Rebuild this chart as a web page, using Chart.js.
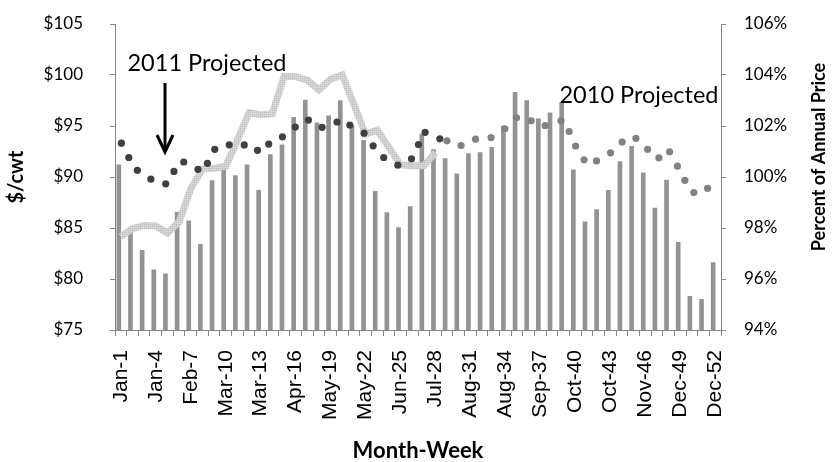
<!DOCTYPE html>
<html>
<head>
<meta charset="utf-8">
<script src="https://cdn.jsdelivr.net/npm/chart.js@4.4.1/dist/chart.umd.min.js"></script>
<style>
  html, body { margin: 0; padding: 0; background: #fff; }
  #wrap { width: 836px; height: 462px; }
</style>
</head>
<body>
<div id="wrap"><canvas id="priceChart"></canvas></div>
<script>
// Week categories
const weeks = [
  "Jan-1", "Jan-2", "Jan-3", "Jan-4", "Feb-5", "Feb-6", "Feb-7", "Feb-8",
  "Mar-9", "Mar-10", "Mar-11", "Mar-12", "Mar-13", "Apr-14", "Apr-15", "Apr-16",
  "Apr-17", "May-18", "May-19", "May-20", "May-21", "May-22", "Jun-23", "Jun-24",
  "Jun-25", "Jun-26", "Jul-27", "Jul-28", "Jul-29", "Jul-30", "Aug-31", "Aug-32",
  "Aug-33", "Aug-34", "Aug-35", "Sep-36", "Sep-37", "Sep-38", "Sep-39", "Oct-40",
  "Oct-41", "Oct-42", "Oct-43", "Oct-44", "Nov-45", "Nov-46", "Nov-47", "Nov-48",
  "Dec-49", "Dec-50", "Dec-51", "Dec-52",
];

// 2010 weekly price ($/cwt) - bars
const price2010 = [
  91.2, 85.0, 82.8, 80.9, 80.5, 86.55, 85.7, 83.4, 89.65, 91.2, 90.15, 91.2, 88.7,
  92.2, 93.15, 95.85, 97.55, 95.3, 96.0, 97.5, 95.1, 93.6, 88.6, 86.5, 85.05, 87.1,
  94.2, 92.7, 91.8, 90.3, 92.3, 92.4, 92.9, 95.0, 98.3, 97.5, 95.7, 96.3, 97.3,
  90.7, 85.6, 86.8, 88.7, 91.5, 93.0, 90.4, 86.95, 89.7, 83.6, 78.3, 78.0, 81.6,
];

// hatched line, first 28 weeks
const seasonal = [
  84.15, 84.95, 85.25, 85.2, 84.5, 85.6, 88.85, 90.8, 90.85, 91.05, 93.6, 96.3,
  96.1, 96.2, 99.85, 99.85, 99.5, 98.55, 99.6, 100.0, 97.1, 94.2, 94.6, 92.9,
  91.2, 91.1, 91.1, 92.4,
];

// 2011 projected dots (x = week position, y = $/cwt)
const proj2011Week = [
  1.05, 1.68, 2.42, 3.58, 4.85, 5.56, 6.40, 7.62, 8.43, 9.06, 10.30, 11.59, 12.73,
  13.69, 14.87, 15.97, 17.10, 18.27, 19.55, 20.65, 21.87, 22.65, 23.56, 24.77,
  25.94, 26.54, 27.11, 28.37,
];
const proj2011 = [
  93.32, 91.91, 90.65, 89.79, 89.33, 90.55, 91.47, 90.75, 91.34, 92.71, 93.15,
  93.14, 92.62, 93.23, 93.94, 94.89, 95.58, 94.87, 95.39, 95.10, 94.30, 93.06,
  91.91, 91.16, 91.78, 93.18, 94.38, 93.74,
];

// 2010 projected dots
const proj2010Week = [
  28.99, 30.20, 31.44, 32.77, 33.95, 34.95, 36.21, 37.41, 38.77, 39.47, 40.02,
  40.75, 41.82, 43.02, 44.02, 45.20, 46.20, 47.17, 48.09, 48.76, 49.40, 50.17,
  51.35,
];
const proj2010 = [
  93.55, 93.09, 93.71, 93.87, 94.73, 95.80, 95.51, 95.05, 95.51, 94.46, 93.04,
  91.68, 91.58, 92.37, 93.43, 93.79, 92.71, 91.88, 92.47, 91.06, 89.67, 88.47,
  88.89,
];

const toPoints = (xs, ys) => xs.map((x, i) => ({ x: x, y: ys[i] }));

// light hatched pattern for the thick line
function hatch() {
  const c = document.createElement("canvas");
  c.width = 4;
  c.height = 4;
  const g = c.getContext("2d");
  g.fillStyle = "#d6d6d6";
  g.fillRect(0, 0, 4, 4);
  g.fillStyle = "#bcbcbc";
  g.fillRect(0, 0, 1, 1);
  g.fillRect(2, 2, 1, 1);
  g.fillRect(2, 0, 1, 1);
  g.fillRect(0, 2, 1, 1);
  return g.createPattern(c, "repeat");
}

const axisColor = "#868686";
const tickFont = { family: "Lato", size: 17 };

// the y axes would otherwise add their tick padding above the plot
const fitSide = (s) => {
  s.width = 115;
  s.paddingTop = 0;
  s.paddingBottom = 0;
};

// annotations, arrow and the right axis title (reads bottom to top)
const notes = {
  id: "notes",
  afterDatasetsDraw(chart) {
    const ctx = chart.ctx;
    ctx.save();
    ctx.fillStyle = "#000";
    ctx.font = "23.5px Lato";
    ctx.textAlign = "center";
    ctx.textBaseline = "middle";
    ctx.fillText("2011 Projected", 207, 63);
    ctx.fillText("2010 Projected", 639, 95);

    ctx.strokeStyle = "#000";
    ctx.lineWidth = 3;
    ctx.beginPath();
    ctx.moveTo(165, 83);
    ctx.lineTo(165, 148);
    ctx.stroke();
    ctx.beginPath();
    ctx.moveTo(157, 135);
    ctx.lineTo(165, 152);
    ctx.lineTo(173, 135);
    ctx.stroke();

    ctx.translate(819, 157);
    ctx.rotate(-Math.PI / 2);
    ctx.font = "bold 18px Lato";
    ctx.fillText("Percent of Annual Price", 0, 0);
    ctx.restore();
  },
};

new Chart(document.getElementById("priceChart"), {
  type: "bar",
  data: {
    labels: weeks,
    datasets: [
      {
        label: "2010",
        type: "bar",
        data: price2010,
        backgroundColor: "#939393",
        barThickness: 4,
        yAxisID: "y",
        xAxisID: "x",
        order: 3,
      },
      {
        label: "Seasonal",
        type: "line",
        data: seasonal,
        borderColor: hatch(),
        borderWidth: 7,
        pointRadius: 0,
        tension: 0,
        fill: false,
        yAxisID: "y",
        xAxisID: "x",
        order: 2,
      },
      {
        label: "2011 Projected",
        type: "scatter",
        data: toPoints(proj2011Week, proj2011),
        backgroundColor: "#404040",
        borderWidth: 0,
        pointRadius: 3.6,
        showLine: false,
        yAxisID: "y",
        xAxisID: "xs",
        order: 1,
      },
      {
        label: "2010 Projected",
        type: "scatter",
        data: toPoints(proj2010Week, proj2010),
        backgroundColor: "#828282",
        borderWidth: 0,
        pointRadius: 3.6,
        showLine: false,
        yAxisID: "y",
        xAxisID: "xs",
        order: 1,
      },
    ],
  },
  options: {
    responsive: true,
    maintainAspectRatio: false,
    animation: false,
    layout: { padding: { top: 24, right: 0, left: 0, bottom: 0 } },
    plugins: {
      legend: { display: false },
      tooltip: { enabled: false },
    },
    scales: {
      x: {
        type: "category",
        position: "bottom",
        offset: true,
        grid: {
          offset: true,
          drawOnChartArea: false,
          tickLength: 6,
          color: axisColor,
        },
        border: { color: axisColor },
        ticks: {
          autoSkip: false,
          maxRotation: 90,
          minRotation: 90,
          padding: 14,
          color: "#000",
          font: { family: "Liberation Sans", size: 21 },
          callback: (v, i) => (i % 3 === 0 ? weeks[i] : ""),
        },
        title: {
          display: true,
          text: "Month-Week",
          color: "#000",
          font: { family: "Lato", size: 22, weight: "bold", lineHeight: 1.0 },
          padding: { top: 0, bottom: 0 },
        },
        afterFit: (s) => {
          s.height = 132;
        },
      },
      xs: {
        type: "linear",
        display: false,
        offset: false,
        grid: { offset: false },
        min: 0.5,
        max: 52.5,
      },
      y: {
        position: "left",
        min: 75,
        max: 105,
        grid: { drawOnChartArea: false, tickLength: 5, color: axisColor },
        border: { color: axisColor },
        ticks: {
          stepSize: 5,
          padding: 27,
          color: "#000",
          font: tickFont,
          callback: (v) => "$" + v,
        },
        title: {
          display: true,
          text: "$/cwt",
          color: "#000",
          font: { family: "Lato", size: 20, weight: "bold" },
          padding: { top: 5, bottom: 0 },
        },
        afterFit: fitSide,
      },
      y1: {
        position: "right",
        min: 94,
        max: 106,
        grid: { drawOnChartArea: false, tickLength: 5, color: axisColor },
        border: { color: axisColor },
        ticks: {
          stepSize: 2,
          padding: 18,
          color: "#000",
          font: tickFont,
          callback: (v) => v + "%",
        },
        afterFit: fitSide,
      },
    },
  },
  plugins: [notes],
});
</script>
</body>
</html>
